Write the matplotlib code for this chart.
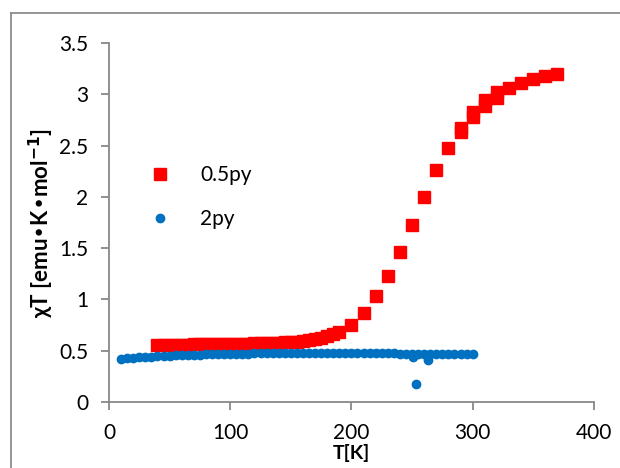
import matplotlib
matplotlib.use("Agg")
import matplotlib.pyplot as plt
from matplotlib.lines import Line2D

plt.rcParams['font.family'] = ['Lato', 'DejaVu Sans']

# 0.5py sample
t_05 = [40, 45, 50, 55, 60, 65, 70, 75, 80, 85, 90, 95, 100, 105, 110, 115,
        120, 125, 130, 135, 140, 145, 150, 155, 160, 165, 170, 175, 180, 185,
        190, 200, 210, 220, 230, 240, 250, 260, 270, 280, 290, 290, 300, 300,
        310, 310, 320, 320, 330, 340, 350, 360, 370]
chi_05 = [0.555, 0.556, 0.557, 0.558, 0.559, 0.56, 0.561, 0.562, 0.563, 0.564,
          0.565, 0.566, 0.567, 0.568, 0.569, 0.57, 0.571, 0.572, 0.574, 0.576,
          0.578, 0.581, 0.585, 0.59, 0.596, 0.605, 0.615, 0.628, 0.643, 0.662,
          0.685, 0.755, 0.87, 1.03, 1.225, 1.46, 1.725, 2.0, 2.26, 2.48,
          2.67, 2.635, 2.83, 2.775, 2.94, 2.885, 3.02, 2.96, 3.06, 3.11,
          3.145, 3.18, 3.2]

# 2py sample
t_2 = [10, 15, 20, 25, 30, 35, 40, 45, 50, 55, 60, 65, 70, 75, 80, 85, 90, 95,
       100, 105, 110, 115, 120, 125, 130, 135, 140, 145, 150, 155, 160, 165,
       170, 175, 180, 185, 190, 195, 200, 205, 210, 215, 220, 225, 230, 235,
       240, 245, 250, 251, 253, 255, 260, 263, 265, 270, 275, 280, 285, 290,
       295, 300]
chi_2 = [0.42, 0.425, 0.43, 0.435, 0.44, 0.443, 0.446, 0.449, 0.452, 0.455,
         0.457, 0.459, 0.461, 0.463, 0.465, 0.466, 0.468, 0.469, 0.47, 0.471,
         0.472, 0.473, 0.474, 0.475, 0.476, 0.477, 0.477, 0.478, 0.478, 0.479,
         0.479, 0.479, 0.479, 0.479, 0.479, 0.479, 0.478, 0.478, 0.478, 0.477,
         0.477, 0.476, 0.476, 0.475, 0.475, 0.474, 0.473, 0.472, 0.47, 0.435,
         0.175, 0.47, 0.469, 0.41, 0.469, 0.469, 0.468, 0.468, 0.468, 0.468,
         0.468, 0.468]

x_ticks = [0, 100, 200, 300, 400]
y_ticks = [0, 0.5, 1, 1.5, 2, 2.5, 3, 3.5]
y_tick_labels = ['0', '0.5', '1', '1.5', '2', '2.5', '3', '3.5']

fig = plt.figure(figsize=(6.2, 4.68), dpi=100)
ax = fig.add_axes([0.1758, 0.141, 0.782, 0.767])

ax.plot(t_05, chi_05, linestyle='', marker='s', markersize=9.2,
        color='#ff0000', label='0.5py')
ax.plot(t_2, chi_2, linestyle='', marker='o', markersize=6,
        color='#0070c0', label='2py')

ax.set_xlim(0, 400)
ax.set_ylim(0, 3.5)
ax.set_xticks(x_ticks)
ax.set_yticks(y_ticks)
ax.set_yticklabels(y_tick_labels)
ax.tick_params(colors='#888888', labelcolor='black', labelsize=15,
               length=6, width=1.3, direction='out')
ax.tick_params(axis='x', pad=9)
ax.tick_params(axis='y', pad=9)
for s in ['top', 'right']:
    ax.spines[s].set_visible(False)
for s in ['left', 'bottom']:
    ax.spines[s].set_color('#888888')
    ax.spines[s].set_linewidth(1.3)

ax.set_xlabel('T[K]', fontsize=14, fontweight='bold', labelpad=1)
ax.set_ylabel('χT [emu•K•mol$^{\\mathbf{-1}}$]', fontsize=16,
              fontweight='bold', labelpad=2)

ax.legend(loc='upper left', bbox_to_anchor=(0.055, 0.70), frameon=False,
          fontsize=15, handlelength=0.9, handletextpad=1.5,
          labelspacing=1.15, borderpad=0.2)

# outer chart frame (left and top edges)
fig.add_artist(Line2D([11 / 620, 11 / 620], [0, 1 - 13 / 468],
                      color='#8c8c8c', linewidth=1.3))
fig.add_artist(Line2D([11 / 620, 1], [1 - 13 / 468, 1 - 13 / 468],
                      color='#8c8c8c', linewidth=1.3))

fig.savefig('out.png', dpi=100)
